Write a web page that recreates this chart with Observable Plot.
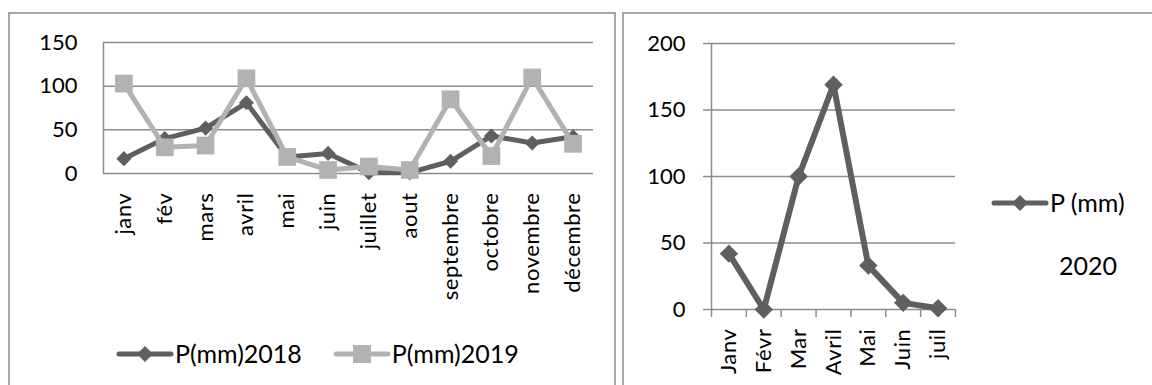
<!DOCTYPE html>
<html>
<head>
<meta charset="utf-8">
<script src="https://cdn.jsdelivr.net/npm/d3@7"></script>
<script src="https://cdn.jsdelivr.net/npm/@observablehq/plot@0.6"></script>
<style>
  body { margin: 0; background: #fff; font-family: Lato, "Open Sans", sans-serif; }
  #wrap { position: relative; width: 1152px; height: 385px; overflow: hidden; background: #fff; }
  .panel { position: absolute; top: 12px; height: 420px; border: 2px solid #a6a6a6; border-bottom: none; box-sizing: border-box; }
  .chart { position: absolute; left: 0; top: 0; }
  .legend { position: absolute; display: flex; align-items: center; color: #000; white-space: nowrap; line-height: 1; }
  .legend .item { display: flex; align-items: center; }
  .legend svg { display: block; }
</style>
</head>
<body>
<div id="wrap">
  <div class="panel" id="left" style="left:8px;width:608px;"></div>
  <div class="panel" id="right" style="left:622px;width:540px;"></div>
</div>
<script>
// Monthly rainfall, 2018 and 2019
const months = ["janv", "fév", "mars", "avril", "mai", "juin", "juillet", "aout", "septembre", "octobre", "novembre", "décembre"];
const p2018 = [17, 40, 52, 81, 19, 23, 1, 1, 14, 43, 35, 42];
const p2019 = [103, 30, 32, 109, 19, 4, 8, 4, 85, 20, 110, 34];
const yTicksLeft = [0, 50, 100, 150];

// Monthly rainfall, first months of 2020
const months2020 = ["Janv", "Févr", "Mar", "Avril", "Mai", "Juin", "juil"];
const p2020 = [42, 0, 100, 169, 33, 5, 1];
const yTicksRight = [0, 50, 100, 150, 200];

const seriesNames = ["P(mm)2018", "P(mm)2019"];
const seriesName2020 = "P (mm)";
const yearLabel = "2020";

const DARK = "#5f5f5f";
const LIGHT = "#b2b2b2";
const GRID = "#8c8c8c";

const rows18 = p2018.map((v, i) => ({i, v}));
const rows19 = p2019.map((v, i) => ({i, v}));
const rows20 = p2020.map((v, i) => ({i, v}));

const baseStyle = {fontFamily: "Lato, sans-serif", fontSize: "22px", color: "#000", background: "transparent"};

// ---- left chart: 2018 vs 2019 ----
const left = Plot.plot({
  width: 600,
  height: 320,
  marginLeft: 93,
  marginRight: 17,
  marginTop: 28,
  marginBottom: 161,
  style: baseStyle,
  x: {domain: [-0.5, months.length - 0.5], axis: null},
  y: {domain: [0, 150], axis: null},
  marks: [
    Plot.gridY(yTicksLeft, {stroke: GRID, strokeOpacity: 1, strokeWidth: 1.5}),
    Plot.ruleX([-0.5], {y1: 0, y2: 150, stroke: GRID, strokeWidth: 1.5}),
    Plot.axisY(yTicksLeft, {label: null, tickSize: 0, tickPadding: 26, fontSize: 22, fill: "#000"}),
    Plot.axisX(d3.range(months.length), {
      label: null, tickSize: 0, tickPadding: 19, tickRotate: -90, fontSize: 22, fill: "#000",
      tickFormat: i => months[i]
    }),
    Plot.line(rows18, {x: "i", y: "v", stroke: DARK, strokeWidth: 5}),
    Plot.dot(rows18, {x: "i", y: "v", symbol: "diamond2", r: 6.8, fill: DARK, stroke: "none"}),
    Plot.line(rows19, {x: "i", y: "v", stroke: LIGHT, strokeWidth: 5}),
    Plot.dot(rows19, {x: "i", y: "v", symbol: "square", r: 10, fill: LIGHT, stroke: "none"})
  ]
});
left.classList.add("chart");
document.getElementById("left").appendChild(left);

// ---- right chart: 2020 ----
const right = Plot.plot({
  width: 345,
  height: 385,
  marginLeft: 87,
  marginRight: 14,
  marginTop: 29,
  marginBottom: 90,
  style: baseStyle,
  x: {domain: [-0.5, months2020.length - 0.5], axis: null},
  y: {domain: [0, 200], axis: null},
  marks: [
    Plot.gridY(yTicksRight, {stroke: GRID, strokeOpacity: 1, strokeWidth: 1.5}),
    Plot.ruleX([-0.5], {y1: 0, y2: 200, stroke: GRID, strokeWidth: 1.5}),
    Plot.axisY(yTicksRight, {label: null, tickSize: 8, tickPadding: 18, fontSize: 22, fill: "#000", stroke: GRID, strokeWidth: 1.5}),
    Plot.axisX(d3.range(months2020.length + 1).map(k => k - 0.5), {
      label: null, tickSize: 8, stroke: GRID, strokeWidth: 1.5, tickFormat: () => ""
    }),
    Plot.axisX(d3.range(months2020.length), {
      label: null, tickSize: 0, tickPadding: 19, tickRotate: -90, fontSize: 22, fill: "#000",
      tickFormat: i => months2020[i]
    }),
    Plot.line(rows20, {x: "i", y: "v", stroke: DARK, strokeWidth: 6}),
    Plot.dot(rows20, {x: "i", y: "v", symbol: "diamond2", r: 8.3, fill: DARK, stroke: "none"})
  ]
});
right.classList.add("chart");
document.getElementById("right").appendChild(right);

// slightly open letter spacing on the rotated month names
d3.selectAll("svg g[aria-label='x-axis tick label'] text").style("letter-spacing", "0.6px");

// ---- legends ----
function swatch(color, shape) {
  const ns = "http://www.w3.org/2000/svg";
  const s = document.createElementNS(ns, "svg");
  s.setAttribute("width", 58);
  s.setAttribute("height", 22);
  const ln = document.createElementNS(ns, "line");
  ln.setAttribute("x1", 3); ln.setAttribute("x2", 55);
  ln.setAttribute("y1", 11); ln.setAttribute("y2", 11);
  ln.setAttribute("stroke", color); ln.setAttribute("stroke-width", 5);
  ln.setAttribute("stroke-linecap", "round");
  s.appendChild(ln);
  const p = document.createElementNS(ns, "path");
  p.setAttribute("d", shape === "square" ? "M20,2H38V20H20Z" : "M29,3L37,11L29,19L21,11Z");
  p.setAttribute("fill", color);
  s.appendChild(p);
  return s;
}
function legendItem(name, color, shape, size) {
  const it = document.createElement("div");
  it.className = "item";
  it.appendChild(swatch(color, shape));
  const t = document.createElement("span");
  t.textContent = name;
  t.style.fontSize = size + "px";
  t.style.marginLeft = "1px";
  it.appendChild(t);
  return it;
}

const wrap = document.getElementById("wrap");
const legL = document.createElement("div");
legL.className = "legend";
legL.style.left = "116px";
legL.style.top = "341px";
const it1 = legendItem(seriesNames[0], DARK, "diamond", 25);
const it2 = legendItem(seriesNames[1], LIGHT, "square", 25);
it2.style.marginLeft = "31px";
legL.appendChild(it1);
legL.appendChild(it2);
wrap.appendChild(legL);

const legR = document.createElement("div");
legR.className = "legend";
legR.style.left = "991px";
legR.style.top = "190px";
legR.appendChild(legendItem(seriesName2020, DARK, "diamond", 25));
wrap.appendChild(legR);

const yr = document.createElement("div");
yr.className = "legend";
yr.style.left = "1059px";
yr.style.top = "253px";
yr.style.fontSize = "25px";
yr.textContent = yearLabel;
wrap.appendChild(yr);
</script>
</body>
</html>
